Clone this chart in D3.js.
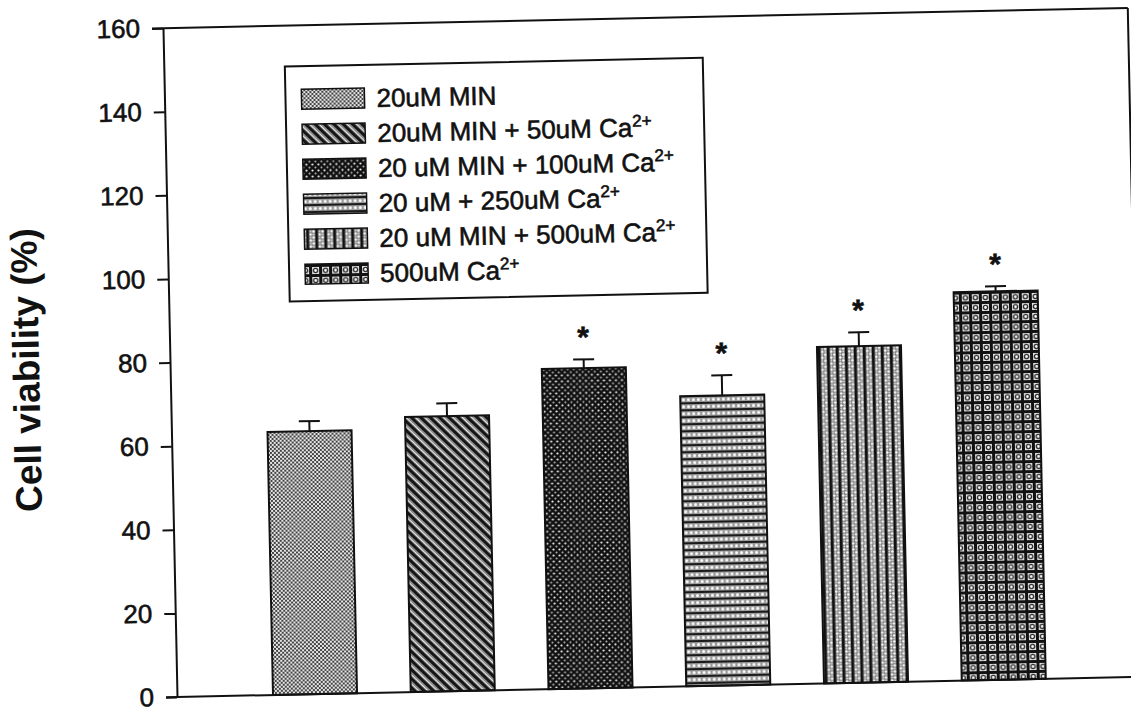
<!DOCTYPE html>
<html>
<head>
<meta charset="utf-8">
<script src="https://cdn.jsdelivr.net/npm/d3@7"></script>
<style>
  html, body { margin: 0; padding: 0; background: #fff; }
  svg { display: block; }
</style>
</head>
<body>
<script>
// ---- data ----
const categories = ["20uM MIN", "20uM MIN + 50uM Ca2+", "20 uM MIN + 100uM Ca2+", "20 uM + 250uM Ca2+", "20 uM MIN + 500uM Ca2+", "500uM Ca2+"];
const legendMain = ["20uM MIN", "20uM MIN + 50uM Ca", "20 uM MIN + 100uM Ca", "20 uM + 250uM Ca", "20 uM MIN + 500uM Ca", "500uM Ca"];
const legendSup = ["", "2+", "2+", "2+", "2+", "2+"];
const values = [62.9, 65.8, 76.6, 69.4, 80.5, 92.9];
const errors = [2.4, 3.1, 2.1, 4.8, 3.3, 1.2];
const significant = [false, false, true, true, true, true];
const yTicks = [0, 20, 40, 60, 80, 100, 120, 140, 160];
const yTitle = "Cell viability (%)";
const patternIds = ["p1", "p2", "p3", "p4", "p5", "p6"];

// ---- layout ----
const width = 1131, height = 710;
const W = 965, H = 669;
const ink = "#111";
const font = "'Liberation Sans', Arial, sans-serif";

const svg = d3.select("body").append("svg")
  .attr("width", width).attr("height", height);
svg.append("rect").attr("width", width).attr("height", height).attr("fill", "#fff");

// ---- patterns ----
const defs = svg.append("defs");
function pat(id, w, h, tf) {
  const p = defs.append("pattern").attr("id", id).attr("patternUnits", "userSpaceOnUse")
    .attr("width", w).attr("height", h);
  if (tf) p.attr("patternTransform", tf);
  return p;
}
// 1: fine grey checker
let p = pat("p1", 4, 4);
p.append("rect").attr("width", 4).attr("height", 4).attr("fill", "#e6e6e6");
p.append("rect").attr("x", 0).attr("y", 0).attr("width", 2).attr("height", 2).attr("fill", "#444");
p.append("rect").attr("x", 2).attr("y", 2).attr("width", 2).attr("height", 2).attr("fill", "#444");
// 2: diagonal stripes "\"
p = pat("p2", 6.5, 6.5, "rotate(-45)");
p.append("rect").attr("width", 6.5).attr("height", 6.5).attr("fill", "#f2f2f2");
p.append("rect").attr("x", 0).attr("width", 3.3).attr("height", 6.5).attr("fill", "#151515");
p.append("rect").attr("x", 4.6).attr("width", 1.9).attr("height", 6.5).attr("fill", "#8a8a8a");
// 3: dark with white dots diamond lattice
p = pat("p3", 6, 6);
p.append("rect").attr("width", 6).attr("height", 6).attr("fill", "#101010");
p.append("circle").attr("cx", 1.5).attr("cy", 1.5).attr("r", 1.1).attr("fill", "#f4f4f4");
p.append("circle").attr("cx", 4.5).attr("cy", 4.5).attr("r", 1.0).attr("fill", "#b8b8b8");
// 4: horizontal stripes with dots
p = pat("p4", 5, 7);
p.append("rect").attr("width", 5).attr("height", 7).attr("fill", "#9a9a9a");
p.append("rect").attr("y", 0).attr("width", 5).attr("height", 2).attr("fill", "#1a1a1a");
p.append("circle").attr("cx", 2.5).attr("cy", 4.5).attr("r", 1.5).attr("fill", "#fff");
// 5: vertical stripes with dots
p = pat("p5", 9, 6);
p.append("rect").attr("width", 9).attr("height", 6).attr("fill", "#808080");
p.append("rect").attr("x", 0).attr("width", 2.6).attr("height", 6).attr("fill", "#111");
p.append("circle").attr("cx", 4.3).attr("cy", 1.5).attr("r", 1.2).attr("fill", "#fff");
p.append("circle").attr("cx", 7.3).attr("cy", 4.5).attr("r", 1.2).attr("fill", "#fff");
p.append("circle").attr("cx", 4.3).attr("cy", 4.5).attr("r", 0.9).attr("fill", "#ddd");
p.append("circle").attr("cx", 7.3).attr("cy", 1.5).attr("r", 0.9).attr("fill", "#ddd");
// 6: dark grid with white rings
p = pat("p6", 10, 10);
p.append("rect").attr("width", 10).attr("height", 10).attr("fill", "#e8e8e8");
p.append("rect").attr("width", 3).attr("height", 10).attr("fill", "#111");
p.append("rect").attr("width", 10).attr("height", 3).attr("fill", "#111");
p.append("circle").attr("cx", 6.5).attr("cy", 6.5).attr("r", 2.1).attr("fill", "#fff").attr("stroke", "#2a2a2a").attr("stroke-width", 1.4);

// ---- chart group (slightly rotated like the scanned reference) ----
const g = svg.append("g")
  .attr("transform", `translate(177,697) rotate(-1.2) translate(0,${-H})`);

const x = d3.scaleBand().domain(categories).range([0, W]).paddingInner(0.39).paddingOuter(0.697);
const y = d3.scaleLinear().domain([0, 160]).range([H, 0]);

const data = categories.map((c, i) => ({ c, v: values[i], e: errors[i], s: significant[i], pid: patternIds[i] }));

// bars
g.selectAll("rect.bar").data(data).join("rect").attr("class", "bar")
  .attr("x", d => x(d.c)).attr("width", x.bandwidth())
  .attr("y", d => y(d.v)).attr("height", d => y(0) - y(d.v))
  .attr("fill", d => `url(#${d.pid})`)
  .attr("stroke", ink).attr("stroke-width", 2);

// error bars
const eb = g.selectAll("g.err").data(data).join("g").attr("class", "err")
  .attr("stroke", ink).attr("stroke-width", 2);
eb.append("line")
  .attr("x1", d => x(d.c) + x.bandwidth() / 2).attr("x2", d => x(d.c) + x.bandwidth() / 2)
  .attr("y1", d => y(d.v)).attr("y2", d => y(d.v + d.e));
eb.append("line")
  .attr("x1", d => x(d.c) + x.bandwidth() / 2 - 10.5).attr("x2", d => x(d.c) + x.bandwidth() / 2 + 10.5)
  .attr("y1", d => y(d.v + d.e)).attr("y2", d => y(d.v + d.e));

// significance stars
g.selectAll("text.star").data(data.filter(d => d.s)).join("text").attr("class", "star")
  .attr("x", d => x(d.c) + x.bandwidth() / 2)
  .attr("y", d => y(d.v + d.e) - 29 + 17)
  .attr("text-anchor", "middle")
  .attr("font-family", font).attr("font-weight", "bold").attr("font-size", 30)
  .attr("fill", ink).attr("stroke", ink).attr("stroke-width", 0.6).text("*");

// frame (top, right, bottom)
g.append("line").attr("x1", -11).attr("x2", W).attr("y1", 0).attr("y2", 0).attr("stroke", ink).attr("stroke-width", 2);
g.append("line").attr("x1", W).attr("x2", W).attr("y1", 0).attr("y2", H).attr("stroke", ink).attr("stroke-width", 2);
g.append("line").attr("x1", -11).attr("x2", W).attr("y1", H).attr("y2", H).attr("stroke", ink).attr("stroke-width", 2);

// y axis
const yAxis = g.append("g")
  .call(d3.axisLeft(y).tickValues(yTicks).tickSize(11).tickSizeOuter(0).tickPadding(12));
yAxis.select(".domain").attr("stroke", ink).attr("stroke-width", 2);
yAxis.selectAll(".tick line").attr("stroke", ink).attr("stroke-width", 2);
yAxis.selectAll(".tick text").attr("font-family", font).attr("font-size", 26).attr("fill", ink)
  .attr("stroke", ink).attr("stroke-width", 0.6);

// y title
g.append("text")
  .attr("transform", `translate(-131,339) rotate(-90)`)
  .attr("text-anchor", "middle")
  .attr("font-family", font).attr("font-weight", "bold").attr("font-size", 37)
  .attr("fill", ink).text(yTitle);

// legend
const lg = g.append("g").attr("transform", "translate(121,41)");
lg.append("rect").attr("width", 418).attr("height", 235)
  .attr("fill", "#fff").attr("stroke", ink).attr("stroke-width", 2);
const rows = lg.selectAll("g.row").data(data).join("g").attr("class", "row")
  .attr("transform", (d, i) => `translate(0,${33 + 35 * i})`);
rows.append("rect").attr("x", 16).attr("y", -10).attr("width", 63).attr("height", 20)
  .attr("fill", d => `url(#${d.pid})`).attr("stroke", ink).attr("stroke-width", 1.5);
const lt = rows.append("text").attr("x", 91).attr("y", 9.3)
  .attr("font-family", font).attr("font-size", 26).attr("fill", ink)
  .attr("stroke", ink).attr("stroke-width", 0.6);
lt.append("tspan").text((d, i) => legendMain[i]);
lt.append("tspan").attr("font-size", 17).attr("dy", -10).text((d, i) => legendSup[i]);
</script>
</body>
</html>
